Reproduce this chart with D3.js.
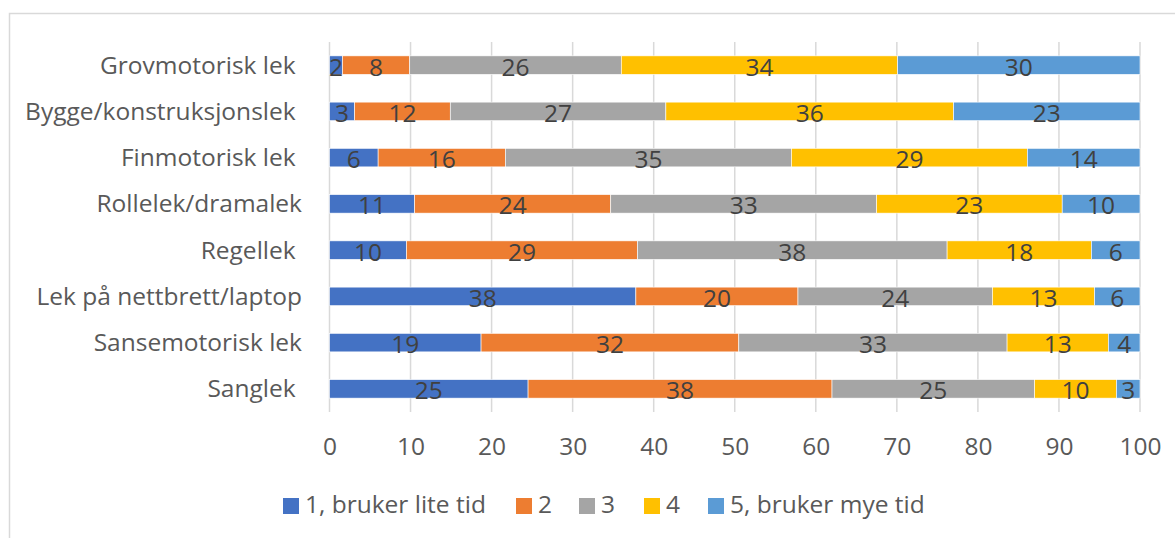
<!DOCTYPE html>
<html>
<head>
<meta charset="utf-8">
<script src="https://cdn.jsdelivr.net/npm/d3@7"></script>
<style>
body { margin: 0; background: #fff; }
svg { display: block; font-family: "Open Sans", sans-serif; }
</style>
</head>
<body>
<svg width="1175" height="538"></svg>
<script>
let categories = ["Grovmotorisk lek ", "Bygge/konstruksjonslek ", "Finmotorisk lek ", "Rollelek/dramalek",
    "Regellek ", "Lek på nettbrett/laptop", "Sansemotorisk lek", "Sanglek "]
let seriesNames = ["1, bruker lite tid", "2", "3", "4", "5, bruker mye tid"]
let colors = ["#4472C4", "#ED7D31", "#A5A5A5", "#FFC000", "#5B9BD5"]

let s1 = [1.6, 3.1, 6.0, 10.5, 9.5, 37.8, 18.7, 24.5]
let s2 = [8.3, 11.8, 15.7, 24.2, 28.5, 20.0, 31.8, 37.5]
let s3 = [26.1, 26.6, 35.3, 32.8, 38.2, 24.0, 33.1, 25.0]
let s4 = [34.1, 35.5, 29.1, 22.9, 17.8, 12.6, 12.5, 10.1]
let s5 = [29.9, 23.0, 13.9, 9.6, 6.0, 5.6, 3.9, 2.9]
let xTicks = [0, 10, 20, 30, 40, 50, 60, 70, 80, 90, 100]

let allSeries = [s1, s2, s3, s4, s5]
let table = categories.map((c, i) => {
    let row = { cat: c }
    seriesNames.forEach((s, j) => { row[s] = allSeries[j][i] })
    return row
})

let svg = d3.select("svg")

// chart frame (only top + left edges visible)
svg.append("path")
    .attr("d", "M9.5,538 V13.5 H1175")
    .style("fill", "none")
    .style("stroke", "#d9d9d9")
    .style("stroke-width", 1.5)

let x = d3.scaleLinear()
    .domain([0, 100])
    .range([329.5, 1140])

let y = d3.scaleBand()
    .domain(categories)
    .range([42, 412])
    .paddingInner(0.6)
    .paddingOuter(0.3)

// gridlines
svg.selectAll(".grid")
    .data(xTicks)
    .join("line")
    .attr("x1", d => x(d))
    .attr("x2", d => x(d))
    .attr("y1", 42)
    .attr("y2", 412)
    .style("stroke", "#d9d9d9")
    .style("stroke-width", 1.5)

let stacked = d3.stack().keys(seriesNames)(table)

let groups = svg.selectAll(".series")
    .data(stacked)
    .join("g")
    .style("fill", (d, i) => colors[i])

groups.selectAll("rect")
    .data(d => d)
    .join("rect")
    .attr("x", d => x(d[0]))
    .attr("width", d => x(d[1]) - x(d[0]))
    .attr("y", d => y(d.data.cat))
    .attr("height", y.bandwidth())
    .style("stroke", "#fff")
    .style("stroke-width", 0.6)

// data labels
groups.selectAll("text")
    .data(d => d)
    .join("text")
    .attr("x", d => (x(d[0]) + x(d[1])) / 2)
    .attr("y", d => y(d.data.cat) + y.bandwidth() / 2 + 10.5)
    .attr("text-anchor", "middle")
    .style("fill", "#404040")
    .style("font-size", "24.5px")
    .text(d => Math.round(d[1] - d[0]))

// category labels
svg.selectAll(".cat")
    .data(categories)
    .join("text")
    .attr("x", 302)
    .attr("y", d => y(d) + y.bandwidth() / 2 + 8.5)
    .attr("text-anchor", "end")
    .style("white-space", "pre")
    .style("fill", "#595959")
    .style("font-size", "24.5px")
    .text(d => d)

// x axis labels
let xAxis = svg.append("g")
    .attr("transform", "translate(0,438)")
    .call(d3.axisBottom(x).tickValues(xTicks).tickSize(0).tickPadding(0))

xAxis.select(".domain").remove()
xAxis.selectAll("text")
    .attr("dy", "0.71em")
    .style("fill", "#595959")
    .style("font-size", "24.5px")
    .style("font-family", "Open Sans, sans-serif")

// legend
let legendX = [283, 516, 579, 644, 708]
let legend = svg.selectAll(".legend")
    .data(seriesNames)
    .join("g")
    .attr("transform", (d, i) => "translate(" + legendX[i] + ",498)")

legend.append("rect")
    .attr("width", 16)
    .attr("height", 16)
    .style("fill", (d, i) => colors[i])

legend.append("text")
    .attr("x", 22)
    .attr("y", 15)
    .style("fill", "#595959")
    .style("font-size", "24.5px")
    .text(d => d)
</script>
</body>
</html>
